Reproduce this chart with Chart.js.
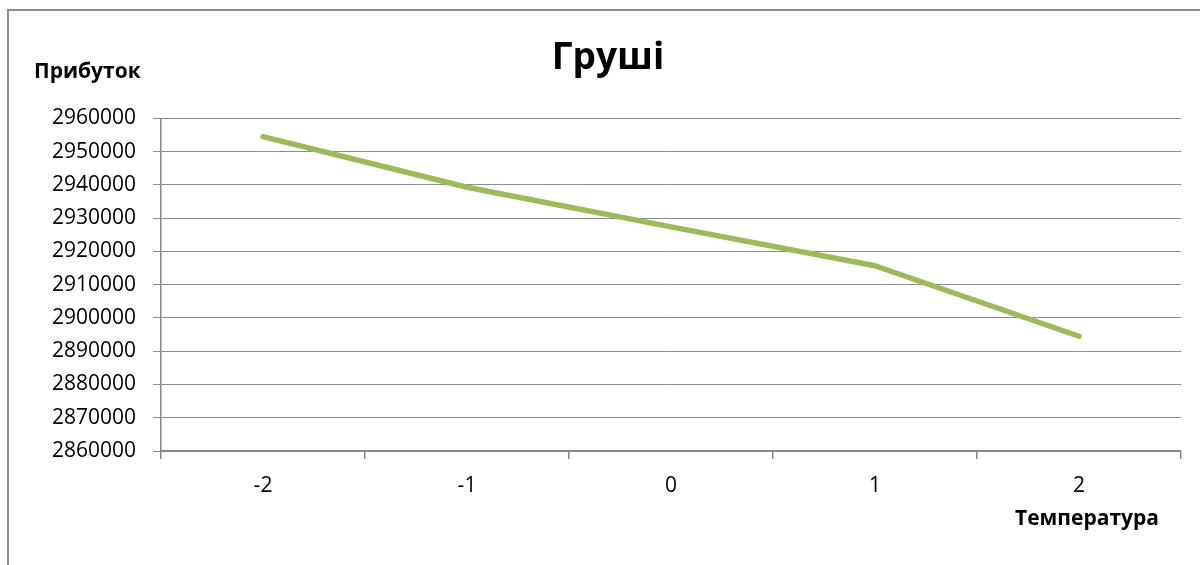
<!DOCTYPE html>
<html>
<head>
<meta charset="utf-8">
<script src="https://cdn.jsdelivr.net/npm/chart.js@4/dist/chart.umd.min.js"></script>
<style>
    html, body { margin: 0; padding: 0; background: #fff; overflow: hidden; }
    #wrap { position: relative; width: 1200px; height: 565px; }
    #marco { position: absolute; left: 7px; top: 9px; width: 1300px; height: 700px; border: 2px solid #8a8a8a; box-sizing: border-box; }
    canvas { position: absolute; left: 0; top: 0; }
</style>
</head>
<body>
<div id="wrap">
    <div id="marco"></div>
    <canvas id="graficoGrushi" width="1200" height="565"></canvas>
</div>
<script>
// Дані
const temperatura = ['-2', '-1', '0', '1', '2'];
const prybutok = [2954500, 2939300, 2927400, 2915700, 2894500];
const yMin = 2860000;
const yMax = 2960000;
const yKrok = 10000;

const fuente = '"Open Sans", "DejaVu Sans", sans-serif';

// Підписи осей (горизонтальні, як в Excel)
const titulosEjes = {
    id: 'titulosEjes',
    afterDraw(chart) {
        const { ctx, chartArea } = chart;
        ctx.save();
        ctx.fillStyle = '#000';
        ctx.font = 'bold 21px ' + fuente;
        ctx.textBaseline = 'middle';
        ctx.textAlign = 'left';
        ctx.fillText('Прибуток', chartArea.left - 127, chartArea.top - 46);
        ctx.textAlign = 'center';
        ctx.fillText('Температура', chartArea.right - 94, chartArea.bottom + 68);
        ctx.restore();
    }
};

const dataGrushi = {
    labels: temperatura,
    datasets: [{
        label: 'Груші',
        data: prybutok,
        borderColor: '#9BBB59',
        backgroundColor: '#9BBB59',
        borderWidth: 5.5,
        borderCapStyle: 'round',
        borderJoinStyle: 'round',
        pointRadius: 0,
        tension: 0,
    }]
};

const configGrushi = {
    type: 'line',
    data: dataGrushi,
    plugins: [titulosEjes],
    options: {
        responsive: false,
        animation: false,
        layout: { padding: { left: 35, right: 19, top: 0, bottom: 0 } },
        plugins: {
            legend: { display: false },
            tooltip: { enabled: false },
            title: {
                display: true,
                text: 'Груші',
                color: '#000',
                font: { family: fuente, size: 37, weight: 'bold' },
                padding: { top: 36, bottom: 38 }
            }
        },
        scales: {
            x: {
                offset: true,
                grid: { display: true, offset: true, drawOnChartArea: false, drawTicks: true, tickLength: 8, color: '#868686', lineWidth: 1.5 },
                border: { display: true, color: '#868686', width: 1.5 },
                ticks: { color: '#000', font: { family: fuente, size: 21 }, padding: 14, maxRotation: 0 },
                afterFit(scale) { scale.height = 114; }
            },
            y: {
                min: yMin,
                max: yMax,
                grid: { color: '#8C8C8C', lineWidth: 1, tickLength: 8 },
                border: { display: true, color: '#868686', width: 1.5 },
                ticks: {
                    stepSize: yKrok,
                    color: '#000',
                    font: { family: fuente, size: 21 },
                    padding: 17,
                    callback: v => String(v)
                },
                afterFit(scale) { scale.width = 126; }
            }
        }
    },
};

new Chart(document.getElementById('graficoGrushi'), configGrushi);
</script>
</body>
</html>
